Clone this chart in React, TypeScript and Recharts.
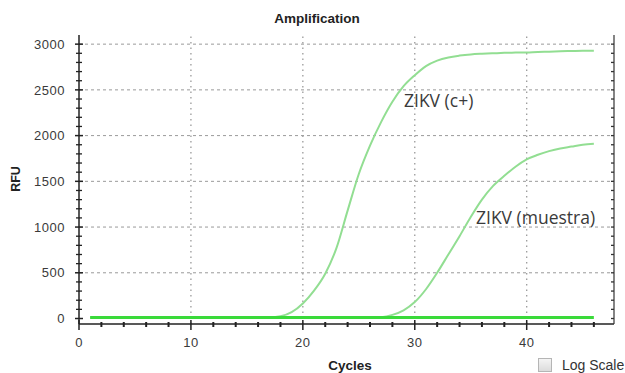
import React from 'react';
import { LineChart, Line, XAxis, YAxis, ReferenceLine } from 'recharts';

if (typeof document !== 'undefined') {
  document.body.style.margin = '0';
}

const cycles = [1, 2, 3, 4, 5, 6, 7, 8, 9, 10, 11, 12, 13, 14, 15, 16, 17, 18, 19, 20, 21, 22, 23, 24, 25, 26, 27, 28, 29, 30, 31, 32, 33, 34, 35, 36, 37, 38, 39, 40, 41, 42, 43, 44, 45, 46];
const cPlus = [10, 10, 10, 10, 10, 10, 10, 10, 10, 10, 10, 10, 10, 10, 10, 10, 12, 25, 70, 165, 305, 490, 770, 1180, 1580, 1890, 2150, 2370, 2540, 2660, 2760, 2820, 2855, 2875, 2888, 2895, 2900, 2905, 2908, 2910, 2915, 2918, 2922, 2925, 2928, 2928];
const muestra = [10, 10, 10, 10, 10, 10, 10, 10, 10, 10, 10, 10, 10, 10, 10, 10, 10, 10, 10, 10, 10, 10, 10, 10, 10, 10, 15, 40, 90, 180, 320, 500, 700, 900, 1110, 1300, 1450, 1560, 1660, 1740, 1790, 1830, 1860, 1880, 1900, 1910];
const negativo = [12, 12, 12, 12, 12, 12, 12, 12, 12, 12, 12, 12, 12, 12, 12, 12, 12, 12, 12, 12, 12, 12, 12, 12, 12, 12, 12, 12, 12, 12, 12, 12, 12, 12, 12, 12, 12, 12, 12, 12, 12, 12, 12, 12, 12, 12];

const xTicks = [0, 2, 4, 6, 8, 10, 12, 14, 16, 18, 20, 22, 24, 26, 28, 30, 32, 34, 36, 38, 40, 42, 44, 46];
const yTicks = [0, 100, 200, 300, 400, 500, 600, 700, 800, 900, 1000, 1100, 1200, 1300, 1400, 1500, 1600, 1700, 1800, 1900, 2000, 2100, 2200, 2300, 2400, 2500, 2600, 2700, 2800, 2900, 3000];
const xGrid = [10, 20, 30, 40];
const yGrid = [500, 1000, 1500, 2000, 2500, 3000];

const data = cycles.map((c, i) => ({ cycle: c, cPlus: cPlus[i], muestra: muestra[i], neg: negativo[i] }));

const FONT = '"Liberation Sans", Arial, sans-serif';

const BottomTick = (props: any) => {
  const { x, y, payload } = props;
  const major = payload.value % 10 === 0;
  return (
    <g>
      <line x1={x} x2={x} y1={major ? y - 4 : y - 2} y2={major ? y + 6 : y + 3} stroke="#222" strokeWidth={major ? 1.5 : 2} />
      {major && (
        <text x={x} y={y + 23} textAnchor="middle" fontSize={13} fill="#3a3a3a" fontFamily={FONT} letterSpacing={0.5}>
          {payload.value}
        </text>
      )}
    </g>
  );
};

const LeftTick = (props: any) => {
  const { x, y, payload } = props;
  const major = payload.value % 500 === 0;
  return (
    <g>
      <line x1={major ? x - 4 : x - 3} x2={major ? x + 4 : x + 3} y1={y} y2={y} stroke="#222" strokeWidth={major ? 1.5 : 1.3} />
      {major && (
        <text x={x - 14} y={y} dy="0.36em" textAnchor="end" fontSize={13} fill="#3a3a3a" fontFamily={FONT} letterSpacing={0.5}>
          {payload.value}
        </text>
      )}
    </g>
  );
};

const TopTick = (props: any) => {
  const { x, y } = props;
  return <line x1={x} x2={x} y1={y} y2={y + 3} stroke="#333" strokeWidth={1.5} />;
};

const RightTick = (props: any) => {
  const { x, y } = props;
  return <line x1={x - 3} x2={x} y1={y} y2={y} stroke="#333" strokeWidth={1.3} />;
};

export default function App() {
  return (
    <div style={{ position: 'relative', width: 625, height: 373, background: '#fff', overflow: 'hidden' }}>
      <LineChart width={625} height={373} data={data} margin={{ top: 35, right: 0, bottom: 0, left: 0 }}>
        <XAxis
          xAxisId={0}
          dataKey="cycle"
          type="number"
          domain={[0, 47.8]}
          allowDataOverflow
          ticks={xTicks}
          interval={0}
          tickSize={0}
          tickMargin={0}
          height={49}
          tickLine={false}
          axisLine={{ stroke: '#222', strokeWidth: 1.5 }}
          tick={<BottomTick />}
        />
        <XAxis
          xAxisId="top"
          orientation="top"
          type="number"
          domain={[0, 47.8]}
          allowDataOverflow
          ticks={xTicks}
          interval={0}
          tickSize={0}
          tickMargin={0}
          height={0}
          tickLine={false}
          axisLine={{ stroke: '#333', strokeWidth: 1.2 }}
          tick={<TopTick />}
        />
        <YAxis
          yAxisId={0}
          type="number"
          domain={[-60, 3100]}
          allowDataOverflow
          ticks={yTicks}
          interval={0}
          tickSize={0}
          tickMargin={0}
          width={79}
          tickLine={false}
          axisLine={{ stroke: '#222', strokeWidth: 1.5 }}
          tick={<LeftTick />}
        />
        <YAxis
          yAxisId="right"
          orientation="right"
          type="number"
          domain={[-60, 3100]}
          allowDataOverflow
          ticks={yTicks}
          interval={0}
          tickSize={0}
          tickMargin={0}
          width={11}
          tickLine={false}
          axisLine={{ stroke: '#333', strokeWidth: 1.2 }}
          tick={<RightTick />}
        />
        {yGrid.map((v) => (
          <ReferenceLine key={'h' + v} y={v} stroke="#9a9a9a" strokeDasharray="3 3" strokeWidth={1} />
        ))}
        {xGrid.map((v) => (
          <ReferenceLine key={'v' + v} x={v} stroke="#9a9a9a" strokeDasharray="1.5 4" strokeWidth={1.3} />
        ))}
        <Line type="monotone" dataKey="cPlus" stroke="#92de92" strokeWidth={2} dot={false} isAnimationActive={false} />
        <Line type="monotone" dataKey="muestra" stroke="#92de92" strokeWidth={2} dot={false} isAnimationActive={false} />
        <Line type="monotone" dataKey="neg" stroke="#3ada3a" strokeWidth={3} dot={false} isAnimationActive={false} />
      </LineChart>

      <div style={{ position: 'absolute', left: 0, width: 634, top: 11, textAlign: 'center', fontFamily: FONT, fontWeight: 'bold', fontSize: 13.5, color: '#222' }}>
        Amplification
      </div>
      <div style={{ position: 'absolute', left: 16, top: 179, transform: 'translate(-50%, -50%) rotate(-90deg)', fontFamily: FONT, fontWeight: 'bold', fontSize: 12.5, color: '#222', whiteSpace: 'nowrap' }}>
        RFU
      </div>
      <div style={{ position: 'absolute', left: 350, top: 365, transform: 'translate(-50%, -50%)', fontFamily: FONT, fontWeight: 'bold', fontSize: 13.5, color: '#222', whiteSpace: 'nowrap' }}>
        Cycles
      </div>
      <div style={{ position: 'absolute', left: 404, top: 100, transform: 'translateY(-50%)', fontFamily: '"Open Sans", sans-serif', fontSize: 17.5, color: '#3a3a3a', whiteSpace: 'nowrap' }}>
        ZIKV (c+)
      </div>
      <div style={{ position: 'absolute', left: 476, top: 217, transform: 'translateY(-50%)', fontFamily: '"Open Sans", sans-serif', fontSize: 17.5, color: '#3a3a3a', whiteSpace: 'nowrap' }}>
        ZIKV (muestra)
      </div>
      <div style={{ position: 'absolute', left: 538, top: 358, width: 12, height: 12, border: '1px solid #b5b5b5', background: 'linear-gradient(#f4f4f4, #dcdcdc)' }} />
      <div style={{ position: 'absolute', left: 562, top: 365, transform: 'translateY(-50%)', fontFamily: FONT, fontSize: 14, color: '#333', whiteSpace: 'nowrap' }}>
        Log Scale
      </div>
    </div>
  );
}
